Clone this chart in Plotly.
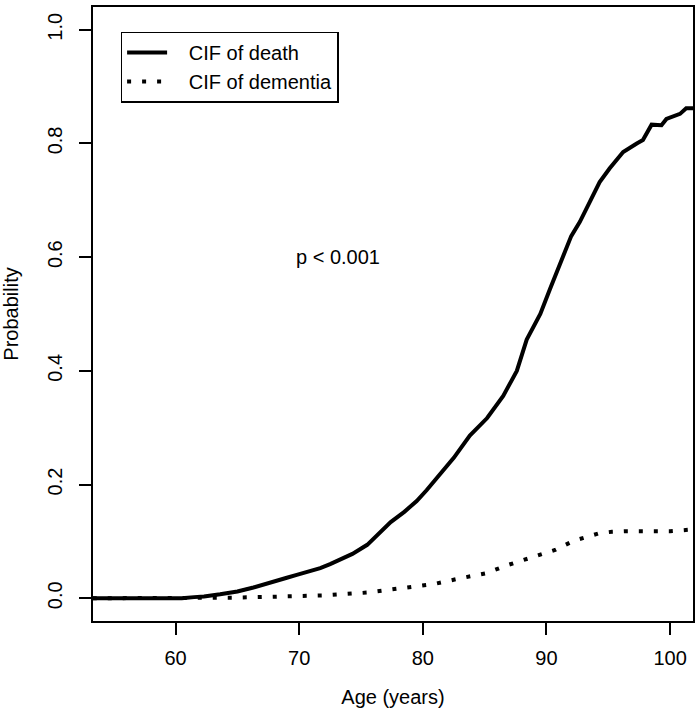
import plotly.graph_objects as go

# Cumulative incidence of death (solid)
death_age = [53.3, 60.5, 61.5, 62.3, 63.6, 65.0, 66.3, 67.7, 69.0, 69.8, 70.5, 71.7,
             72.5, 73.3, 74.3, 75.5, 76.5, 77.4, 78.5, 79.5, 80.3, 81.1, 82.5, 83.8,
             85.2, 86.5, 87.6, 88.4, 89.5, 90.3, 91.1, 92.0, 92.7, 93.5, 94.3, 95.1,
             96.2, 97.3, 97.8, 98.5, 99.3, 99.7, 100.8, 101.3, 101.85]
death_cif = [0.0, 0.0, 0.002, 0.003, 0.007, 0.012, 0.019, 0.027, 0.036, 0.041, 0.045, 0.053,
             0.060, 0.068, 0.078, 0.094, 0.114, 0.134, 0.152, 0.171, 0.190, 0.211, 0.247, 0.286,
             0.317, 0.356, 0.400, 0.455, 0.500, 0.545, 0.587, 0.637, 0.662, 0.697, 0.732, 0.756,
             0.785, 0.800, 0.806, 0.833, 0.832, 0.843, 0.852, 0.862, 0.862]

# Cumulative incidence of dementia (dotted)
dem_age = [53.3, 62.5, 64.7, 68.5, 72.0, 75.5, 78.7, 80.9, 83.0, 85.1, 86.8, 88.8,
           90.7, 92.2, 93.2, 94.2, 95.3, 96.5, 100.0, 101.3, 101.85]
dem_cif = [0.0, 0.0, 0.001, 0.003, 0.005, 0.010, 0.018, 0.025, 0.035, 0.044, 0.058, 0.071,
           0.085, 0.101, 0.108, 0.114, 0.117, 0.118, 0.118, 0.121, 0.121]

x_ticks = [60, 70, 80, 90, 100]
y_ticks = [0.0, 0.2, 0.4, 0.6, 0.8, 1.0]
y_tick_labels = ["0.0", "0.2", "0.4", "0.6", "0.8", "1.0"]

series_names = ["CIF of death", "CIF of dementia"]

FONT = "Liberation Sans, Arial, sans-serif"
PAD = "\u00a0" * 3  # gap between legend sample and label

fig = go.Figure()
fig.add_trace(go.Scatter(x=death_age, y=death_cif, mode="lines", name=PAD + series_names[0],
                         line=dict(color="black", width=4)))
fig.add_trace(go.Scatter(x=dem_age, y=dem_cif, mode="lines", name=PAD + series_names[1],
                         line=dict(color="black", width=4, dash="4px,11px")))

fig.add_annotation(x=73.1, y=0.6, text="p < 0.001", showarrow=False,
                   font=dict(size=20, color="black", family=FONT))

fig.update_layout(
    width=700, height=712,
    margin=dict(l=92.7, r=7.3, t=5, b=91.3),
    paper_bgcolor="white", plot_bgcolor="white",
    font=dict(family=FONT, size=20, color="black"),
    showlegend=True,
    legend=dict(x=0.046, y=0.96, xanchor="left", yanchor="top",
                bordercolor="black", borderwidth=1.5, bgcolor="white",
                font=dict(size=20, family=FONT, color="black"),
                itemwidth=40, tracegroupgap=0),
    xaxis=dict(range=[53.32, 101.85], tickvals=x_ticks, ticks="outside", ticklen=12,
               tickwidth=1.5, tickcolor="black", showline=True, linecolor="black",
               linewidth=2, mirror=True, showgrid=False, zeroline=False,
               ticklabelstandoff=6,
               title=dict(text="Age (years)", standoff=22, font=dict(size=20))),
    yaxis=dict(range=[-0.04, 1.04], tickvals=y_ticks, ticktext=y_tick_labels,
               ticks="outside", ticklen=12, tickwidth=1.5, tickcolor="black",
               showline=True, linecolor="black", linewidth=2, mirror=True,
               showgrid=False, zeroline=False, tickangle=-90,
               ticklabelstandoff=9,
               title=dict(text="Probability", standoff=22, font=dict(size=20))),
)

fig.write_html("out.html", config={"displayModeBar": False},
               post_script="document.body.style.margin='0';document.body.style.overflow='hidden';")
